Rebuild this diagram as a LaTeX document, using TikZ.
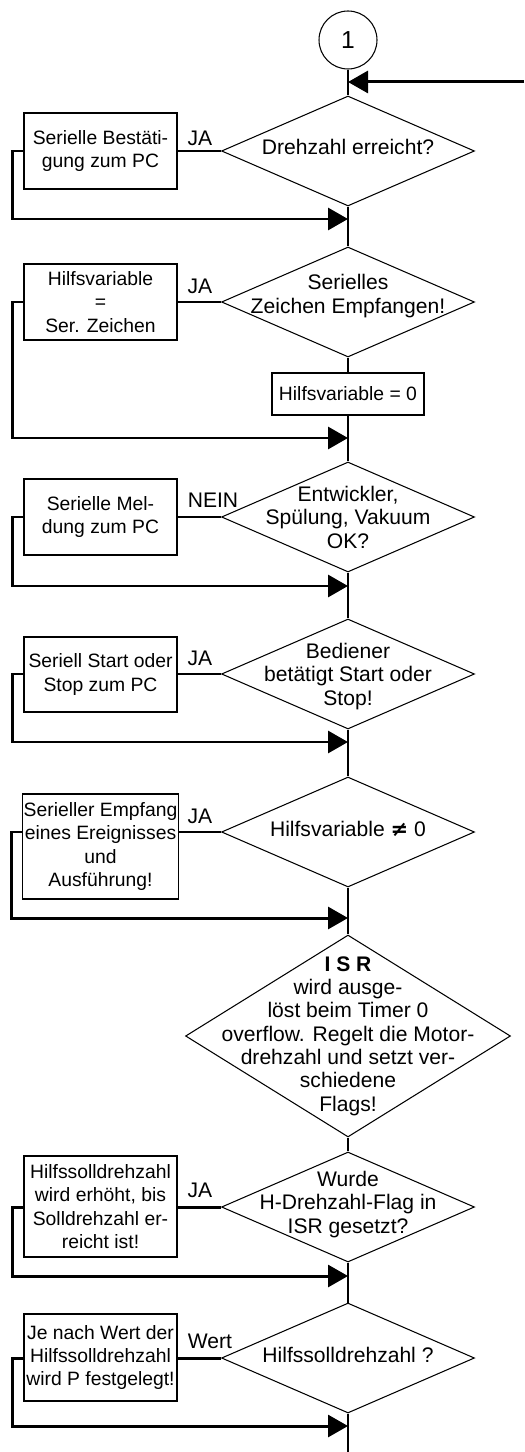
\documentclass[tikz,border=0pt]{standalone}
\usepackage{fontspec}
\setmainfont{Liberation Sans}
\newfontfamily\neqfont{DejaVu Sans}
\usetikzlibrary{shapes.geometric,arrows.meta}

% text in a diamond of fixed size (optional: extra raise)
\newcommand{\dtext}[2][0pt]{\makebox[0pt]{\raisebox{\dimexpr#1-4pt\relax}{\smash{\begin{tabular}{@{}c@{}}#2\end{tabular}}}}}

\tikzset{
	flow/.style={line width=1.7pt},
	arr/.style={flow,-{Triangle[length=0.4cm,width=0.44cm]}},
	stepbox/.style={draw,line width=0.6pt,rectangle,minimum width=3.06cm,inner sep=0.5pt,align=center,font=\fontsize{11}{13.3}\selectfont},
	decision/.style={draw,line width=0.6pt,shape=diamond,inner sep=0pt,minimum width=5.06cm,minimum height=2.2cm,font=\fontsize{12}{13.3}\selectfont},
	lab/.style={inner sep=0pt,font=\fontsize{12}{13.3}\selectfont}
}

\begin{document}
\begin{tikzpicture}[x=0.02cm,y=-0.02cm]
	
	\useasboundingbox (0,0) rectangle (524,1452);
	
	\node[draw,circle,line width=0.6pt,minimum size=1.16cm,inner sep=0pt,font=\fontsize{14}{16}\selectfont] (c1) at (348,40) {1};
	
	\node[decision] (d1) at (348,151) {\dtext[-1pt]{Drehzahl erreicht?}};
	\node[decision] (d2) at (348,302) {\dtext[4pt]{Serielles\\Zeichen Empfangen!}};
	\node[stepbox,minimum width=3.04cm,minimum height=0.84cm] (hv) at (348,394) {Hilfsvariable = 0};
	\node[decision] (d3) at (348,517) {\dtext[-5.5pt]{Entwickler,\\Spülung, Vakuum\\OK?}};
	\node[decision] (d4) at (348,674) {\dtext[-5.5pt]{Bediener\\betätigt Start oder\\Stop!}};
	\node[decision] (d5) at (348,832) {\dtext[-2pt]{Hilfsvariable {\neqfont\bfseries ≠} 0}};
	\node[decision,minimum width=6.5cm,minimum height=4.04cm] (d6) at (348,1036) {\dtext[-2.5pt]{\textbf{I S R}\\wird ausge-\\löst beim Timer 0\\overflow. Regelt die Motor-\\drehzahl und setzt ver-\\schiedene\\Flags!}};
	\node[decision] (d7) at (348,1207) {\dtext{Wurde\\H-Drehzahl-Flag in\\ISR gesetzt?}};
	\node[decision] (d8) at (348,1358) {\dtext[-2pt]{Hilfssolldrehzahl ?}};
	
	\node[stepbox,minimum height=1.52cm] (b1) at (100.5,151) {Serielle Bestäti-\\gung zum PC};
	\node[stepbox,minimum height=1.52cm] (b2) at (100.5,302) {Hilfsvariable\\=\\Ser. Zeichen};
	\node[stepbox,minimum height=1.52cm] (b3) at (100.5,517) {Serielle Mel-\\dung zum PC};
	\node[stepbox,minimum height=1.5cm] (b4) at (100.5,674.5) {Seriell Start oder\\Stop zum PC};
	\node[stepbox,minimum height=2.1cm] (b5) at (100.5,846.5) {Serieller Empfang\\eines Ereignisses\\und\\Ausführung!};
	\node[stepbox,minimum height=2.02cm] (b7) at (100.5,1206.5) {Hilfssolldrehzahl\\wird erhöht, bis\\Solldrehzahl er-\\reicht ist!};
	\node[stepbox,minimum height=1.74cm] (b8) at (100.5,1357.5) {Je nach Wert der\\Hilfssolldrehzahl\\wird P festgelegt!};
	
	\node[lab] (l1) at (200,138) {JA};
	\node[lab] (l2) at (200,286) {JA};
	\node[lab] (l3) at (213,500) {NEIN};
	\node[lab] (l4) at (200,658) {JA};
	\node[lab] (l5) at (200,816) {JA};
	\node[lab] (l7) at (200,1190) {JA};
	\node[lab] (l8) at (210,1341) {Wert};
	
	% junctions on the main line
	\coordinate (in) at (524,82);
	\coordinate (j1) at (348,219);
	\coordinate (j2) at (348,438);
	\coordinate (j3) at (348,586);
	\coordinate (j4) at (348,742);
	\coordinate (j5) at (348,918);
	\coordinate (j7) at (348,1276);
	\coordinate (j8) at (348,1426);
	\coordinate (end) at (348,1452);
	
	% main line
	\draw[flow] (c1) -- (d1);
	\draw[flow] (d1) -- (d2);
	\draw[flow] (d2) -- (hv);
	\draw[flow] (hv) -- (d3);
	\draw[flow] (d3) -- (d4);
	\draw[flow] (d4) -- (d5);
	\draw[flow] (d5) -- (d6);
	\draw[flow] (d6) -- (d7);
	\draw[flow] (d7) -- (d8);
	\draw[flow] (d8) -- (end);
	
	\draw[arr] (in) -- (in -| c1);
	
	% branches
	\draw[flow] (d1.west) -- (b1.east |- d1.west);
	\draw[flow] (d2.west) -- (b2.east |- d2.west);
	\draw[flow] (d3.west) -- (b3.east |- d3.west);
	\draw[flow] (d4.west) -- (b4.east |- d4.west);
	\draw[flow] (d5.west) -- (b5.east |- d5.west);
	\draw[flow] (d7.west) -- (b7.east |- d7.west);
	\draw[flow] (d8.west) -- (b8.east |- d8.west);
	
	\draw[arr] (b1.west |- d1) -- ++(-11,0) |- (j1);
	\draw[arr] (b2.west |- d2) -- ++(-11,0) |- (j2);
	\draw[arr] (b3.west |- d3) -- ++(-11,0) |- (j3);
	\draw[arr] (b4.west |- d4) -- ++(-11,0) |- (j4);
	\draw[arr] (b5.west |- d5) -- ++(-11,0) |- (j5);
	\draw[arr] (b7.west |- d7) -- ++(-11,0) |- (j7);
	\draw[arr] (b8.west |- d8) -- ++(-11,0) |- (j8);
	
\end{tikzpicture}
\end{document}
